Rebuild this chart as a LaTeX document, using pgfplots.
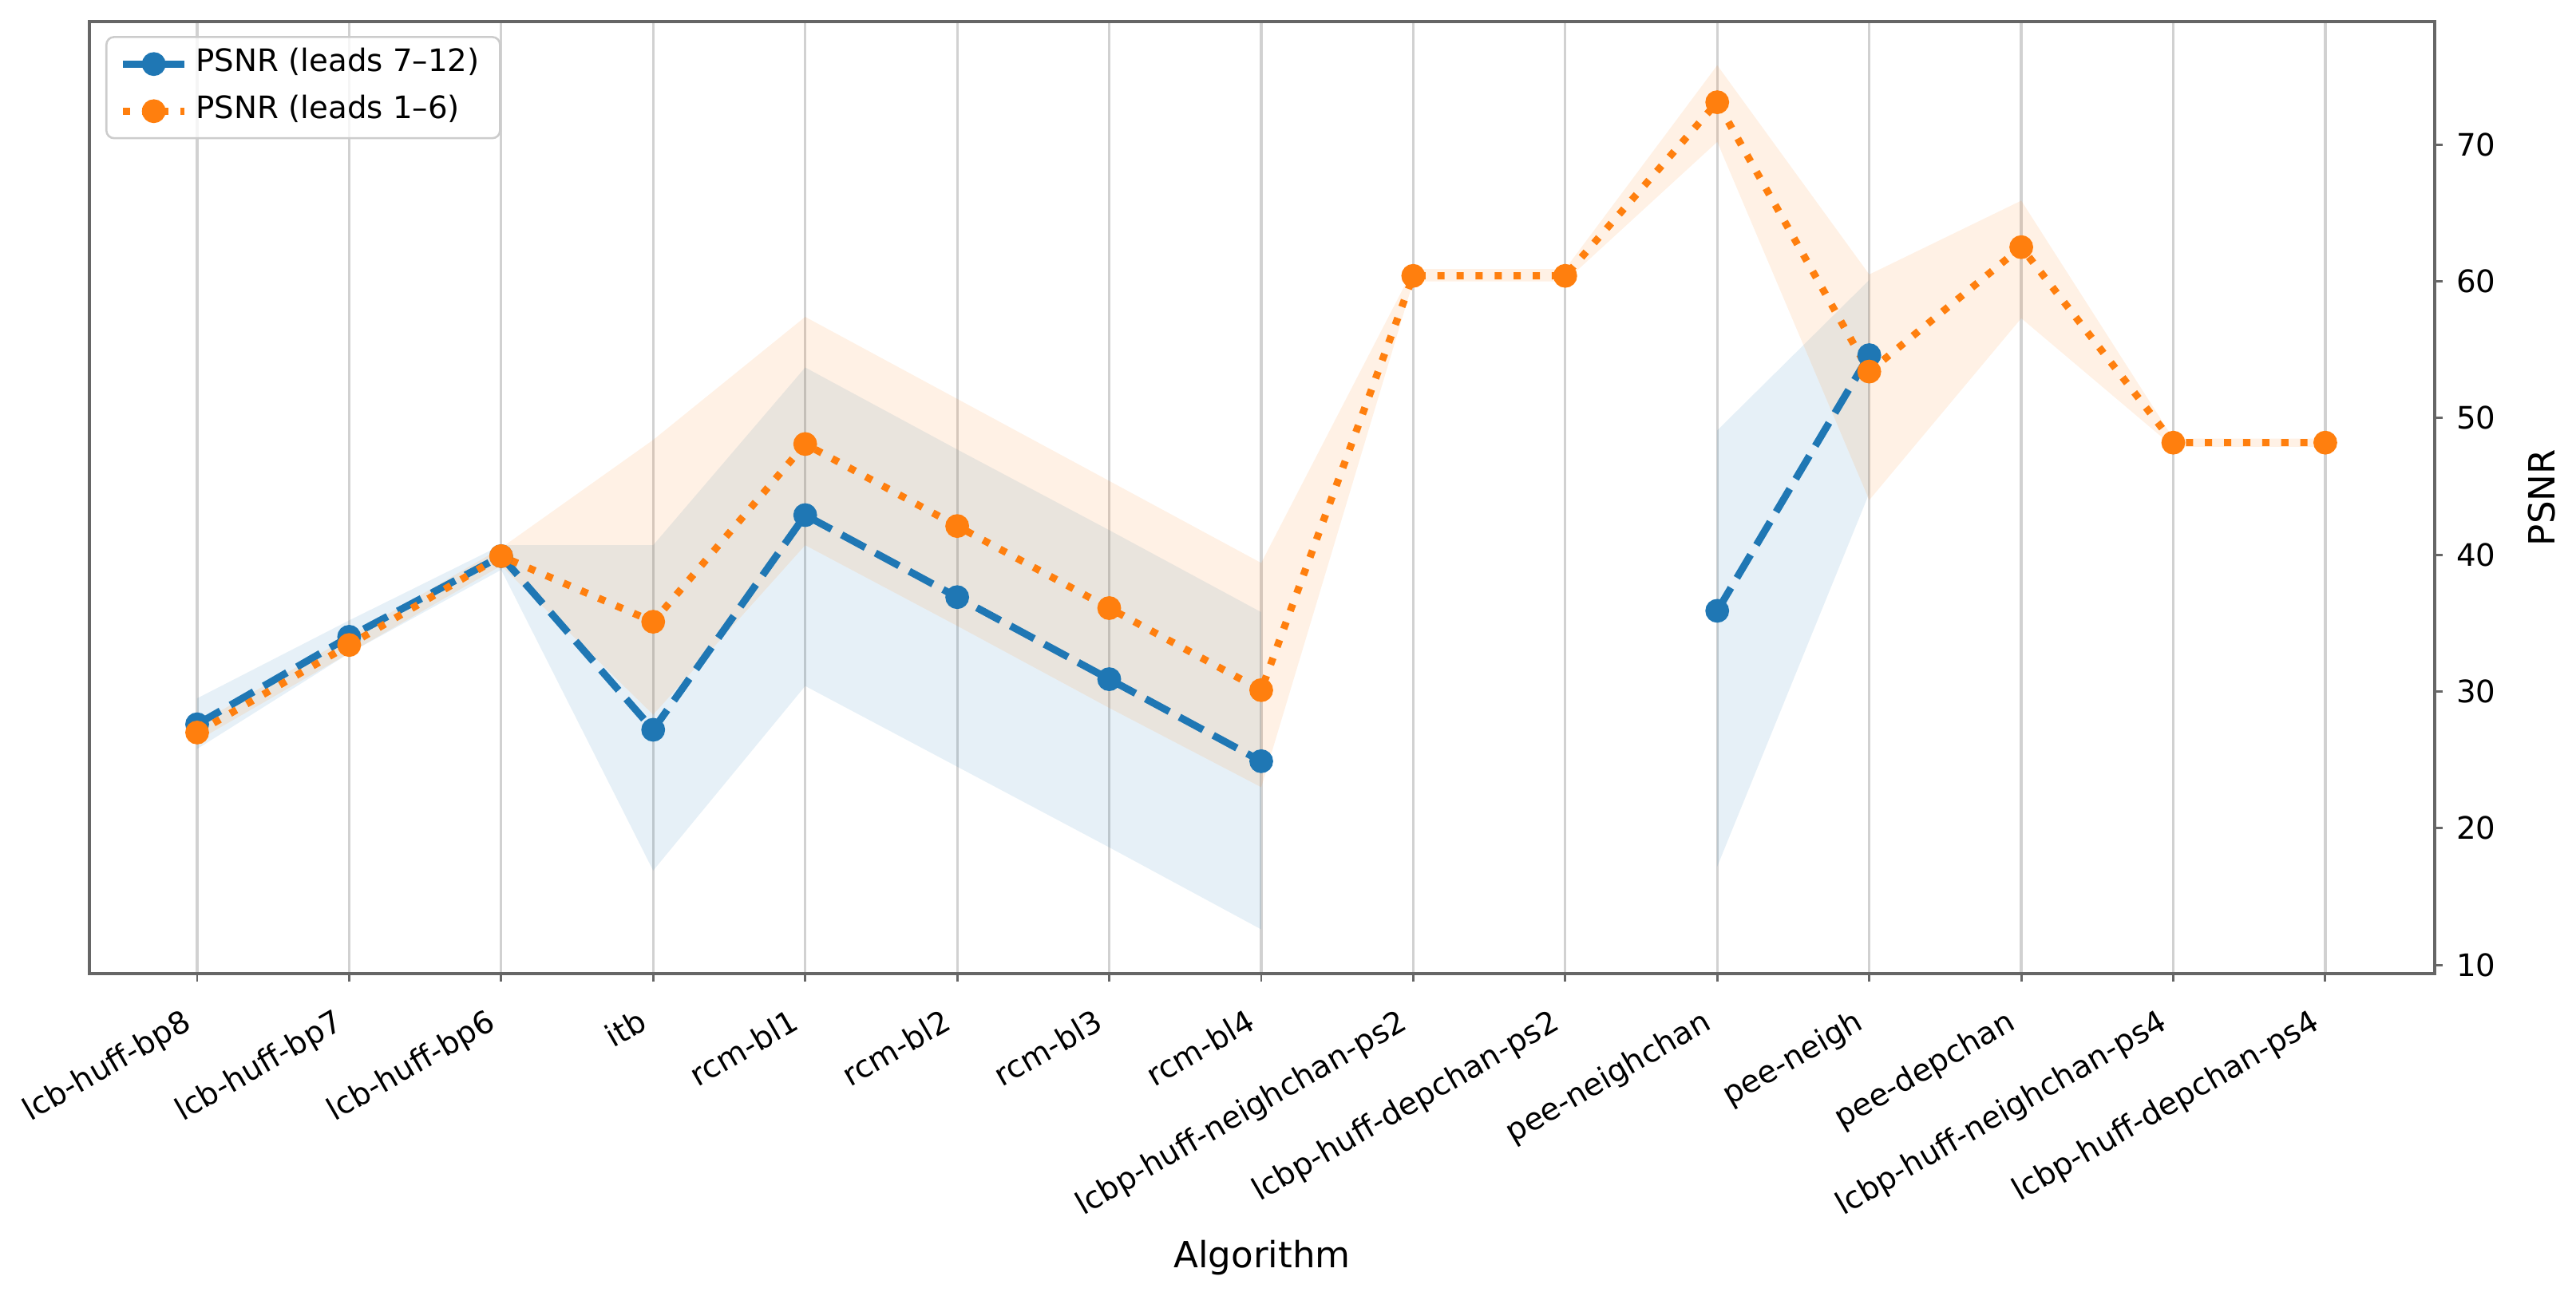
\documentclass[border=0pt]{standalone}
\usepackage{fontspec}
\setmainfont{DejaVu Sans}
\usepackage{pgfplots}
\pgfplotsset{compat=1.18}
\definecolor{tabblue}{HTML}{1F77B4}
\definecolor{taborange}{HTML}{FF7F0E}
\begin{document}
\begin{tikzpicture}
\begin{axis}[
  name=ax,
  scale only axis,
  width=910.4pt, height=369.7pt,
  xmin=-0.709, xmax=14.72,
  ymin=9.36, ymax=79.0,
  xtick={0,...,14},
  xticklabels={lcb-huff-bp8, lcb-huff-bp7, lcb-huff-bp6, itb, rcm-bl1, rcm-bl2, rcm-bl3, rcm-bl4, lcbp-huff-neighchan-ps2, lcbp-huff-depchan-ps2, pee-neighchan, pee-neigh, pee-depchan, lcbp-huff-neighchan-ps4, lcbp-huff-depchan-ps4},
  ytick={10,20,...,70},
  xtick pos=left, ytick pos=right,
  yticklabel pos=right,
  tick align=outside,
  major tick length=3.2pt,
  tick style={black!60, line width=0.9pt},
  axis line style={black!60, line width=1pt},
  xmajorgrids, grid style={black!18, line width=1pt},
  unbounded coords=jump,
  /pgf/number format/assume math mode=true,
  ticklabel style={font=\fontsize{12}{14.4}\selectfont},
  xticklabel style={rotate=30, anchor=south east, inner sep=0pt, text height=11.1pt, text depth=2.9pt},
  xticklabel shift=20.5pt,
  yticklabel style={anchor=west, inner sep=0pt},
  yticklabel shift=5pt,
  xlabel={Algorithm},
  ylabel={PSNR},
  every axis x label/.style={at={(axis description cs:0.5,0)}, yshift=-114pt, anchor=base, font=\fontsize{14}{16.8}\selectfont},
  every axis y label/.style={at={(axis description cs:1,0.5)}, xshift=46.5pt, rotate=90, anchor=base, font=\fontsize{14}{16.8}\selectfont},
  legend cell align=left,
  legend image code/.code={\draw[mark repeat=2,mark phase=2,opacity=1] plot coordinates {(0pt,0pt) (12pt,0pt) (24pt,0pt)};},
  legend style={at={(0,1)}, anchor=north west, xshift=6.2pt, yshift=-5.6pt, draw=black!20, line width=0.8pt, rounded corners=3pt, fill=white, fill opacity=0.8, text opacity=1, font=\fontsize{12}{14.4}\selectfont, inner xsep=5pt, inner ysep=2.5pt, row sep=2.3pt, nodes={inner ysep=2pt, inner xsep=3pt, text height=9pt, text depth=3pt}},
]
% bands
\addplot[draw=none, fill=tabblue, fill opacity=0.11, forget plot] coordinates {
 (0,29.5) (1,35.2) (2,40.7) (3,40.7) (4,53.7) (5,47.7) (6,41.8) (7,35.8)
 (7,12.6) (6,18.6) (5,24.5) (4,30.4) (3,16.9) (2,38.9) (1,32.8) (0,25.8)} -- cycle;
\addplot[draw=none, fill=tabblue, fill opacity=0.11, forget plot] coordinates {
 (10,49.1) (11,60.1) (11,44.5) (10,17.2)} -- cycle;
\addplot[draw=none, fill=taborange, fill opacity=0.11, forget plot] coordinates {
 (0,27.6) (1,34.0) (2,40.5) (3,48.4) (4,57.4) (5,51.4) (6,45.4) (7,39.4) (8,60.9) (9,60.9) (10,75.8) (11,60.5) (12,65.9) (13,48.5) (14,48.5)
 (14,47.9) (13,47.9) (12,57.3) (11,44.0) (10,70.2) (9,60.0) (8,60.0) (7,23.0) (6,28.8) (5,34.8) (4,40.7) (3,28.3) (2,39.2) (1,32.8) (0,26.4)} -- cycle;
% lines
\addplot[tabblue, line width=2.8pt, dash pattern=on 10.4pt off 4.5pt, mark=*, mark size=3.2pt, mark options={solid}] coordinates {
 (0,27.6) (1,34.0) (2,39.9) (3,27.2) (4,42.9) (5,36.9) (6,30.9) (7,24.9) (8,nan) (9,nan) (10,35.9) (11,54.6) (12,nan) (13,nan) (14,nan)};
\addlegendentry{PSNR (leads 7–12)}
\addplot[taborange, line width=2.8pt, dash pattern=on 2.8pt off 4.6pt, mark=*, mark size=3.2pt, mark options={solid}] coordinates {
 (0,27.0) (1,33.4) (2,39.9) (3,35.1) (4,48.1) (5,42.1) (6,36.1) (7,30.1) (8,60.4) (9,60.4) (10,73.1) (11,53.4) (12,62.5) (13,48.2) (14,48.2)};
\addlegendentry{PSNR (leads 1–6)}
\end{axis}
\pgfresetboundingbox
\path[use as bounding box] ([xshift=-34.7pt,yshift=-124.9pt]ax.south west) rectangle ([xshift=54.85pt,yshift=8.37pt]ax.north east);
\end{tikzpicture}
\end{document}
